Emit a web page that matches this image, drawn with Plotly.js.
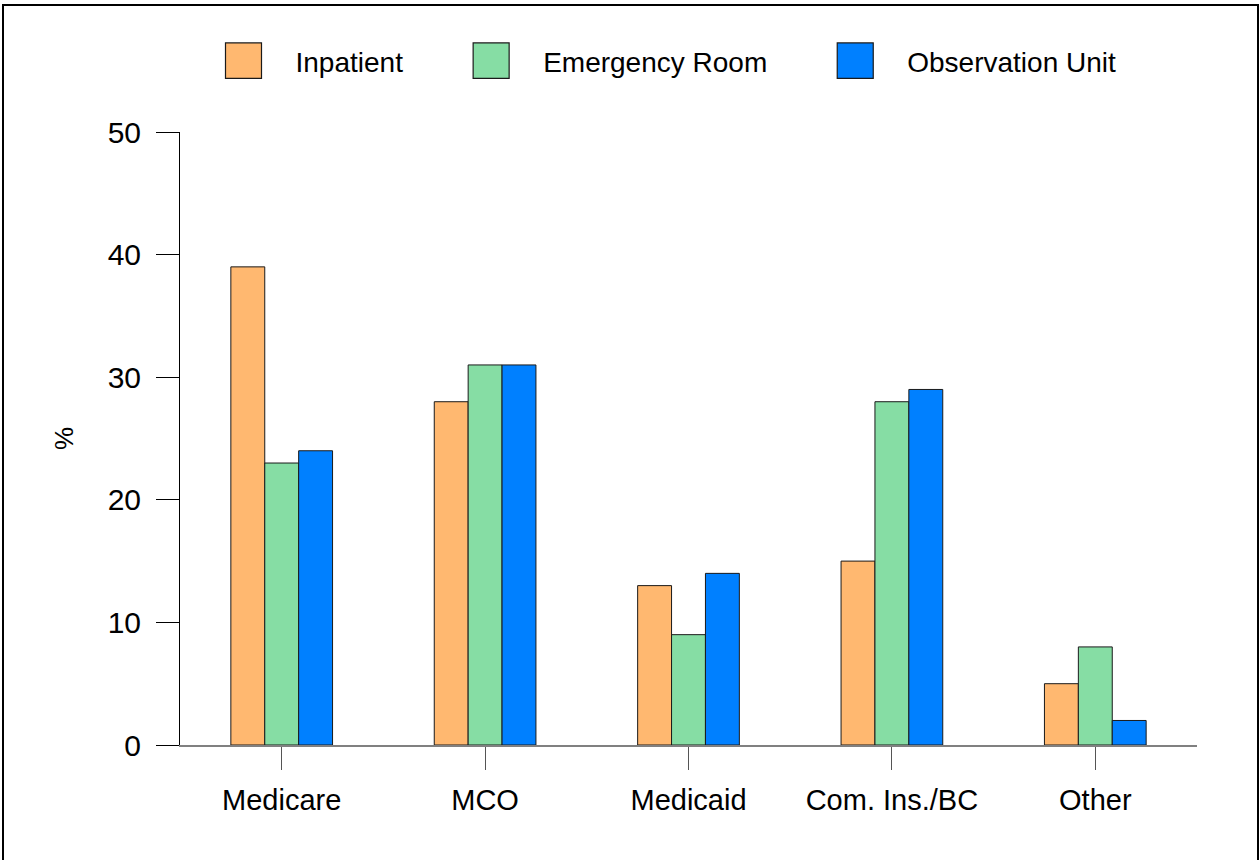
<!DOCTYPE html>
<html>
<head>
<meta charset="utf-8">
<script src="https://cdn.plot.ly/plotly-3.0.1.min.js"></script>
<style>
html,body{margin:0;padding:0;background:#fff;}
#wrap{position:relative;width:1260px;height:860px;overflow:hidden;}
#chart{position:absolute;left:0;top:0;width:1260px;height:860px;}
#frame{position:absolute;left:2px;top:4px;width:1253px;height:870px;border:2px solid #000;pointer-events:none;}
</style>
</head>
<body>
<div id="wrap"><div id="chart"></div><div id="frame"></div></div>
<script>
const categories = ["Medicare", "MCO", "Medicaid", "Com. Ins./BC", "Other"];
const inpatient = [39, 28, 13, 15, 5];
const emergencyRoom = [23, 31, 9, 28, 8];
const observationUnit = [24, 31, 14, 29, 2];
const seriesNames = ["Inpatient", "Emergency Room", "Observation Unit"];
const seriesColors = ["#FFB870", "#86DDA4", "#0080FF"];
const yTicks = [0, 10, 20, 30, 40, 50];

const seriesValues = [inpatient, emergencyRoom, observationUnit];
const traces = seriesValues.map((vals, i) => ({
  type: "bar",
  name: seriesNames[i],
  x: categories,
  y: vals,
  marker: {color: seriesColors[i], line: {color: "#1a1a1a", width: 1}},
  hoverinfo: "x+y+name"
}));

const fam = "Liberation Sans, Arial, sans-serif";

const layout = {
  width: 1260, height: 860,
  margin: {l: 180, r: 63, t: 132, b: 115},
  paper_bgcolor: "#fff", plot_bgcolor: "#fff",
  font: {family: fam, size: 28, color: "#000"},
  barmode: "group",
  bargap: 0.5,
  bargroupgap: 0,
  showlegend: true,
  legend: {
    orientation: "h",
    x: 0.48, xanchor: "center",
    y: 1.116, yanchor: "middle",
    bgcolor: "rgba(0,0,0,0)",
    font: {family: fam, size: 28, color: "#000"},
    traceorder: "normal"
  },
  xaxis: {
    type: "category",
    range: [-0.5, 4.5],
    showline: true, linecolor: "#808080", linewidth: 2,
    ticks: "outside", ticklen: 23, tickcolor: "#555", tickwidth: 1,
    ticklabelstandoff: 5,
    tickfont: {family: fam, size: 29, color: "#000"},
    showgrid: false, zeroline: false,
    fixedrange: true
  },
  yaxis: {
    range: [0, 50],
    tickvals: yTicks,
    ticktext: yTicks.map(String),
    showline: true, linecolor: "#000", linewidth: 1,
    ticks: "outside", ticklen: 23, tickcolor: "#000", tickwidth: 1,
    ticklabelstandoff: 9,
    tickfont: {family: fam, size: 30, color: "#000"},
    showgrid: false, zeroline: false,
    title: {text: "%", font: {family: fam, size: 26, color: "#000"}, standoff: 26},
    fixedrange: true
  }
};

// legend styling (swatch size / spacing), applied after Plotly lays out the legend
const legendSwatchScale = 3;
const legendFirstSwatchCenter = 243.5;
const legendTextOffset = 52;
const legendItemGap = 88;

function parseTranslate(el) {
  const tr = el.getAttribute("transform") || "";
  const m = tr.match(/translate\(\s*([-\d.e]+)(?:[ ,]+([-\d.e]+))?\s*\)/);
  return m ? [parseFloat(m[1]), parseFloat(m[2] || 0)] : [0, 0];
}
function centerX(el) {
  const r = el.getBoundingClientRect();
  return (r.left + r.right) / 2;
}

Plotly.newPlot("chart", traces, layout, {displayModeBar: false, staticPlot: true}).then(gd => {
  const sb = gd.querySelector(".legend .scrollbox");
  if (sb) sb.removeAttribute("clip-path");
  const groups = gd.querySelectorAll(".legend .traces");
  let target = legendFirstSwatchCenter;
  groups.forEach(g => {
    const path = g.querySelector(".legendpoints path");
    const text = g.querySelector("text.legendtext");
    path.setAttribute("transform", "scale(" + legendSwatchScale + "," + (legendSwatchScale - 0.05) + ")");
    path.style.strokeWidth = "0.4px";
    for (let k = 0; k < 3; k++) {
      const [ox, oy] = parseTranslate(g);
      const d = target - centerX(path);
      if (Math.abs(d) < 0.25) break;
      g.setAttribute("transform", "translate(" + (ox + d) + "," + oy + ")");
    }
    for (let k = 0; k < 3; k++) {
      const dx = legendTextOffset - (text.getBoundingClientRect().left - centerX(path));
      if (Math.abs(dx) < 0.25) break;
      text.setAttribute("x", parseFloat(text.getAttribute("x") || 0) + dx);
    }
    target = text.getBoundingClientRect().right + legendItemGap;
  });
});
</script>
</body>
</html>
